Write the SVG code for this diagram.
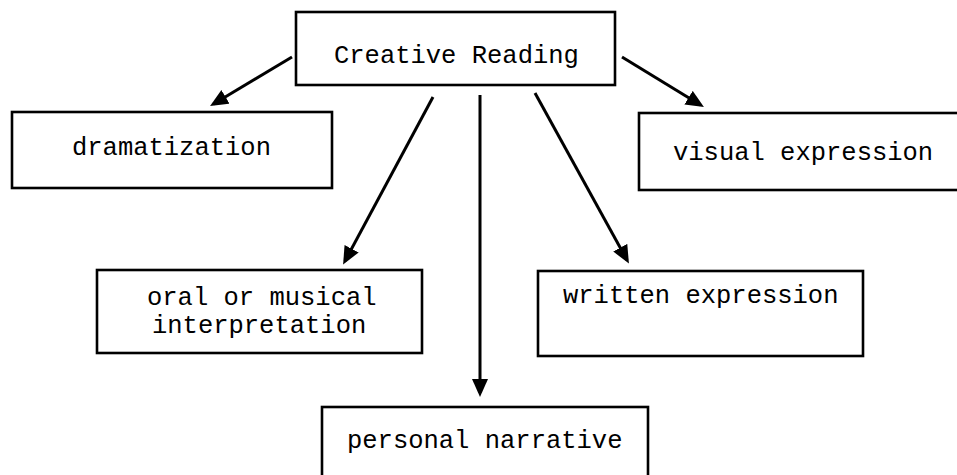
<svg xmlns="http://www.w3.org/2000/svg" width="957" height="475" viewBox="0 0 957 475">
  <style>
    .box { fill: #ffffff; stroke: #000000; stroke-width: 2.6; }
    .lbl { font-family: "Liberation Mono", "Courier New", monospace; font-size: 25.5px; fill: #000000; }
    .conn { stroke: #000000; stroke-width: 3; fill: none; marker-end: url(#ah); }
  </style>
  <defs>
    <marker id="ah" markerUnits="userSpaceOnUse" markerWidth="20" markerHeight="18" refX="14" refY="8" orient="auto">
      <path d="M0,0 L18,8 L0,16 z" fill="#000000"/>
    </marker>
  </defs>
  <rect width="957" height="475" fill="#ffffff"/>

  <g id="connectors">
    <line class="conn" x1="292" y1="57" x2="213.5" y2="104"/>
    <line class="conn" x1="622" y1="57" x2="700.5" y2="105"/>
    <line class="conn" x1="433" y1="97" x2="345" y2="261"/>
    <line class="conn" x1="480" y1="95" x2="480" y2="393"/>
    <line class="conn" x1="535" y1="93" x2="627" y2="260"/>
  </g>

  <g id="creative-reading">
    <rect class="box" x="296" y="12" width="319" height="73"/>
    <text class="lbl" x="334" y="63">Creative Reading</text>
  </g>

  <g id="dramatization">
    <rect class="box" x="12" y="112" width="320" height="76"/>
    <text class="lbl" x="72" y="155">dramatization</text>
  </g>

  <g id="visual-expression">
    <rect class="box" x="639" y="113" width="330" height="77"/>
    <text class="lbl" x="673" y="160">visual expression</text>
  </g>

  <g id="oral-musical">
    <rect class="box" x="97" y="270" width="325" height="83"/>
    <text class="lbl" x="147" y="305">oral or musical</text>
    <text class="lbl" x="152" y="333">interpretation</text>
  </g>

  <g id="written-expression">
    <rect class="box" x="538" y="271" width="325" height="85"/>
    <text class="lbl" x="563" y="303">written expression</text>
  </g>

  <g id="personal-narrative">
    <rect class="box" x="322" y="407" width="326" height="90"/>
    <text class="lbl" x="347" y="448">personal narrative</text>
  </g>
</svg>
